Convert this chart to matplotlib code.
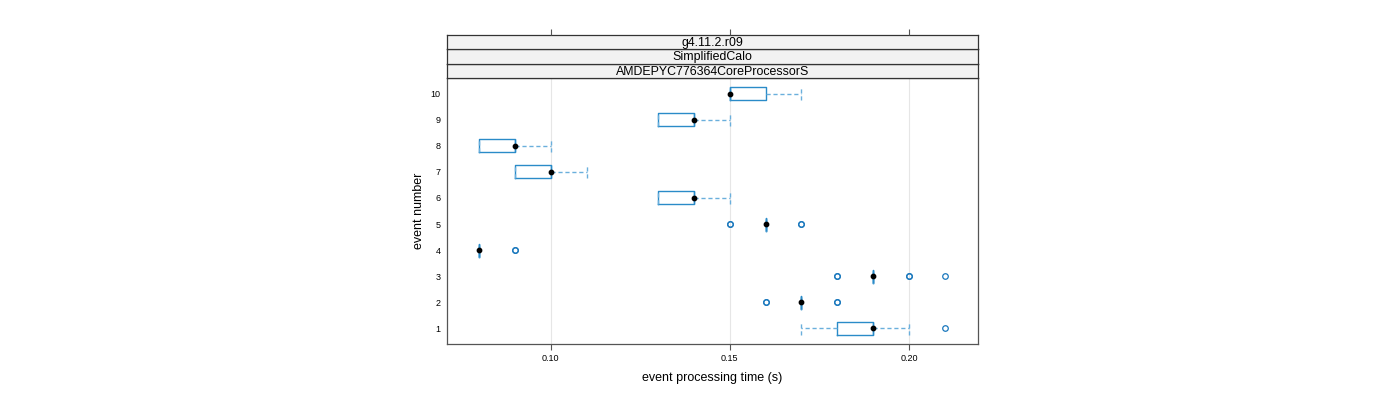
import matplotlib

matplotlib.use("Agg")
import matplotlib.pyplot as plt

plt.rcParams["font.family"] = ["Liberation Sans", "DejaVu Sans"]

# per-event box statistics (seconds)
events = [1, 2, 3, 4, 5, 6, 7, 8, 9, 10]
whislo = [0.17, 0.17, 0.19, 0.08, 0.16, 0.13, 0.09, 0.08, 0.13, 0.15]
q1 = [0.18, 0.17, 0.19, 0.08, 0.16, 0.13, 0.09, 0.08, 0.13, 0.15]
med = [0.19, 0.17, 0.19, 0.08, 0.16, 0.14, 0.10, 0.09, 0.14, 0.15]
q3 = [0.19, 0.17, 0.19, 0.08, 0.16, 0.14, 0.10, 0.09, 0.14, 0.16]
whishi = [0.20, 0.17, 0.19, 0.08, 0.16, 0.15, 0.11, 0.10, 0.15, 0.17]
fliers = [
    [0.21],
    [0.16, 0.16, 0.18, 0.18],
    [0.18, 0.18, 0.20, 0.20, 0.21],
    [0.09, 0.09],
    [0.15, 0.15, 0.17, 0.17],
    [], [], [], [], [],
]
strips = ["g4.11.2.r09", "SimplifiedCalo", "AMDEPYC776364CoreProcessorS"]
xticks = [0.10, 0.15, 0.20]

BOX = "#2a8bc8"
WHISK = "#6aafdc"
FLIER = "#1a78bd"
FRAME = "#555555"

W, H = 1400, 400
fig = plt.figure(figsize=(14, 4), dpi=100)

L, R = 447 / W, 978 / W
pb, pt = (H - 344) / H, (H - 78) / H
xlim = (0.0710, 0.2193)

ax = fig.add_axes([L, pb, R - L, pt - pb])
stats = []
for i in range(len(events)):
    stats.append(dict(whislo=whislo[i], q1=q1[i], med=med[i], q3=q3[i],
                      whishi=whishi[i], fliers=fliers[i]))
ax.bxp(stats, positions=events, orientation="horizontal", widths=0.5,
       capwidths=0.5, showfliers=True, patch_artist=False,
       boxprops=dict(color=BOX, lw=1.0),
       whiskerprops=dict(color=WHISK, lw=1.0, ls=(0, (3, 2))),
       capprops=dict(color=WHISK, lw=1.0, ls=(0, (3, 2))),
       medianprops=dict(color=BOX, lw=1.0),
       flierprops=dict(marker="o", mfc="none", mec=FLIER, ms=4, mew=0.9))
ax.scatter(med, events, s=10, color="black", zorder=5)

ax.set_xlim(*xlim)
ax.set_ylim(0.385, 10.615)
ax.set_xticks(xticks)
ax.set_xticklabels([f"{t:.2f}" for t in xticks], fontsize=6.5)
ax.set_yticks(events)
ax.set_yticklabels([str(e) for e in events], fontsize=6.5)
ax.tick_params(axis="y", length=0, pad=4.5)
ax.tick_params(axis="x", length=4.5, width=0.8, color=FRAME, pad=2.5)
for t in xticks:
    ax.axvline(t, color="#e6e6e6", lw=0.8, zorder=0)
for s in ax.spines.values():
    s.set_color(FRAME)
    s.set_linewidth(0.9)
ax.set_xlabel("event processing time (s)", fontsize=9, labelpad=7)
ax.set_ylabel("event number", fontsize=9, labelpad=4)

# strips
edges = [78, 64, 49, 35]
for k, label in enumerate(reversed(strips)):
    b = (H - edges[k]) / H
    t = (H - edges[k + 1]) / H
    sa = fig.add_axes([L, b, R - L, t - b])
    sa.set_facecolor("#f2f2f2")
    sa.set_xticks([])
    sa.set_yticks([])
    for s in sa.spines.values():
        s.set_color("#333333")
        s.set_linewidth(0.9)
    sa.text(0.5, 0.45, label, ha="center", va="center", fontsize=8.9,
            transform=sa.transAxes)

# top ticks above the strips
ta = fig.add_axes([L, pb, R - L, (H - 35) / H - pb], frameon=False)
ta.patch.set_visible(False)
ta.set_xlim(*xlim)
ta.set_xticks(xticks)
ta.set_yticks([])
ta.tick_params(axis="x", bottom=False, labelbottom=False, top=True,
               labeltop=False, length=4.5, width=0.8, color=FRAME)

fig.savefig("out.png", dpi=100)
